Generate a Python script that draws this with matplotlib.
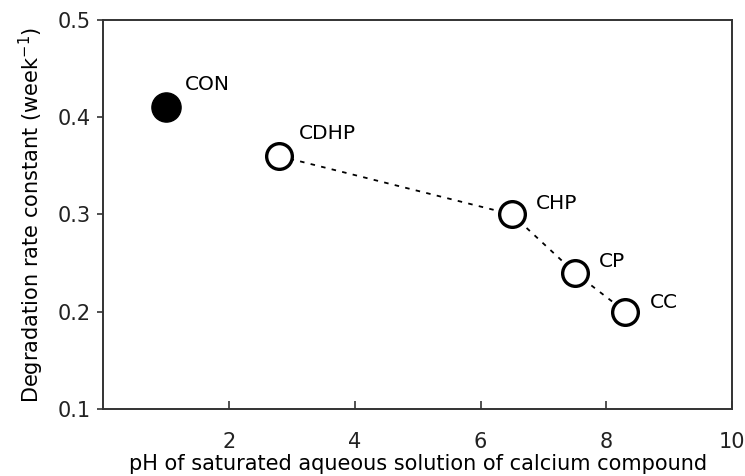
import matplotlib
matplotlib.use('Agg')
import matplotlib.pyplot as plt

plt.rcParams['font.family'] = ['DejaVu Sans']

# data
names = ['CON', 'CDHP', 'CHP', 'CP', 'CC']
ph = [1.0, 2.8, 6.5, 7.5, 8.3]
rate = [0.41, 0.36, 0.30, 0.24, 0.20]

# where each label sits relative to its point (points)
label_offsets = [(14, 16.5), (14, 16), (17, 8), (17, 8), (18, 6.5)]

fig = plt.figure(figsize=(7.45, 4.76), dpi=100)
ax = fig.add_axes([0.138, 0.141, 0.845, 0.817])

# dashed line through the calcium compounds
ax.plot(ph[1:], rate[1:], linestyle=(0, (2.5, 3.5)), color='black', linewidth=1.3, zorder=1)

# control: filled circle
ax.plot(ph[0], rate[0], 'o', markersize=21, color='black', zorder=3)
# compounds: open circles
ax.plot(ph[1:], rate[1:], 'o', markersize=18.5, markerfacecolor='white',
        markeredgecolor='black', markeredgewidth=2.4, linestyle='none', zorder=3)

for n, x, y, off in zip(names, ph, rate, label_offsets):
    ax.annotate(n, (x, y), xytext=off, textcoords='offset points',
                fontsize=14.5, va='center', ha='left')

ax.set_xlim(0, 10)
ax.set_ylim(0.1, 0.5)
ax.set_xticks([2, 4, 6, 8, 10])
ax.set_yticks([0.1, 0.2, 0.3, 0.4, 0.5])
ax.set_yticklabels(['0.1', '0.2', '0.3', '0.4', '0.5'])
ax.tick_params(axis='x', direction='in', length=6, width=1.2, labelsize=15, pad=17, colors='#333333', labelcolor='#222222')
ax.tick_params(axis='y', direction='out', length=4, width=1.2, labelsize=15, pad=5, colors='#333333', labelcolor='#222222')
for s in ax.spines.values():
    s.set_linewidth(1.4)
    s.set_color('#333333')

ax.set_xlabel('pH of saturated aqueous solution of calcium compound', fontsize=15, labelpad=1)
ax.set_ylabel('Degradation rate constant (week$^{-1}$)', fontsize=15, labelpad=8)

fig.savefig('out.png', dpi=100)
